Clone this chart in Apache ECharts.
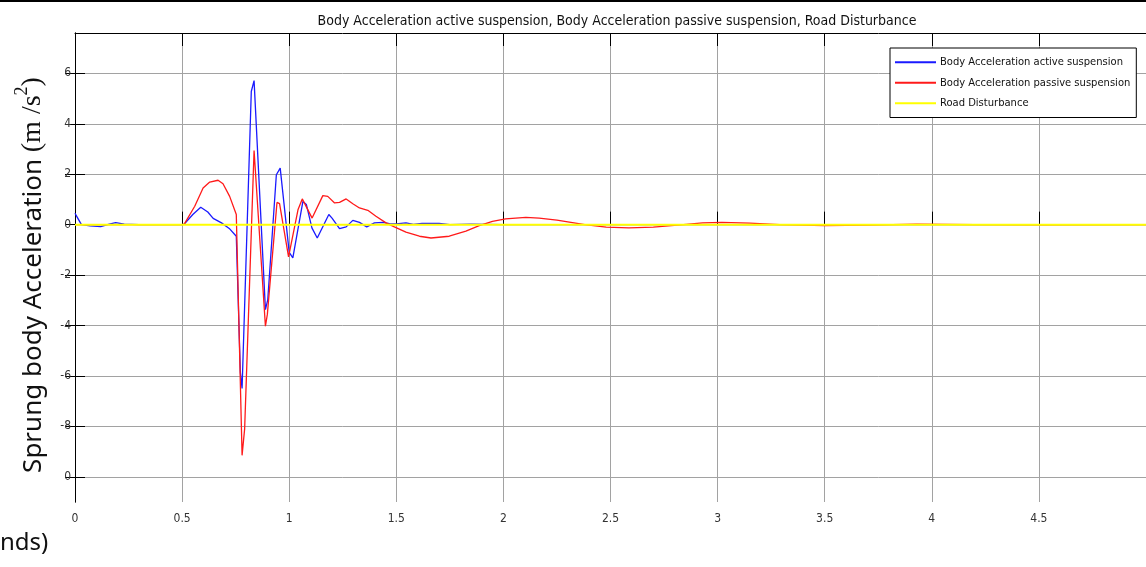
<!DOCTYPE html>
<html>
<head>
<meta charset="utf-8">
<script src="https://cdn.jsdelivr.net/npm/echarts@6/dist/echarts.min.js"></script>
<style>
  html, body { margin: 0; padding: 0; background: #fff; }
  #chart { width: 1146px; height: 567px; }
</style>
</head>
<body>
<div id="chart"></div>
<script>
// Sprung-mass body acceleration, time in seconds
const activeTime = [0, 0.01, 0.03, 0.07, 0.12, 0.16, 0.19, 0.23, 0.3, 0.4, 0.5, 0.51, 0.55, 0.587, 0.62, 0.645, 0.684, 0.72, 0.753, 0.772, 0.78, 0.823, 0.836, 0.889, 0.9, 0.94, 0.958, 1.0, 1.017, 1.064, 1.08, 1.106, 1.131, 1.185, 1.2, 1.235, 1.266, 1.297, 1.328, 1.362, 1.398, 1.437, 1.468, 1.5, 1.545, 1.58, 1.62, 1.7, 1.75, 1.85, 2.0, 2.5, 3.0, 3.5, 4.0, 4.5, 5.0];
const activeAccel = [0.45, 0.3, 0.0, -0.05, -0.08, 0.02, 0.08, 0.02, 0, 0, 0, 0.02, 0.4, 0.69, 0.5, 0.25, 0.07, -0.15, -0.46, -5.86, -6.5, 5.28, 5.71, -3.37, -2.97, 1.98, 2.24, -1.1, -1.32, 0.92, 0.8, -0.13, -0.53, 0.4, 0.26, -0.16, -0.09, 0.17, 0.09, -0.09, 0.07, 0.09, 0.04, 0.03, 0.07, 0.01, 0.05, 0.05, 0, 0.02, 0, 0, 0, 0, 0, 0, 0];

const passiveTime = [0, 0.5, 0.51, 0.559, 0.598, 0.629, 0.668, 0.691, 0.722, 0.753, 0.78, 0.792, 0.836, 0.889, 0.898, 0.943, 0.955, 0.997, 1.041, 1.061, 1.107, 1.157, 1.18, 1.212, 1.235, 1.266, 1.297, 1.328, 1.367, 1.405, 1.452, 1.491, 1.545, 1.608, 1.662, 1.747, 1.825, 1.887, 1.949, 2.01, 2.105, 2.167, 2.25, 2.38, 2.48, 2.586, 2.7, 2.84, 2.93, 3.02, 3.15, 3.29, 3.5, 3.7, 3.93, 4.2, 4.5, 5.0];
const passiveAccel = [0, 0, 0.02, 0.73, 1.45, 1.69, 1.76, 1.62, 1.12, 0.4, -9.15, -8.1, 2.94, -4.03, -3.56, 0.88, 0.83, -1.28, 0.59, 1.02, 0.26, 1.15, 1.12, 0.86, 0.88, 1.02, 0.83, 0.66, 0.57, 0.33, 0.07, -0.09, -0.3, -0.46, -0.53, -0.46, -0.26, -0.04, 0.13, 0.23, 0.29, 0.26, 0.18, 0, -0.1, -0.13, -0.1, 0, 0.07, 0.09, 0.06, 0, -0.04, -0.02, 0.02, 0, -0.01, 0];

const roadTime = [0, 1, 2, 3, 4, 5];
const roadValue = [0, 0, 0, 0, 0, 0];

const seriesNames = ['Body Acceleration active suspension', 'Body Acceleration passive suspension', 'Road Disturbance'];

// y tick positions and the labels printed next to them
const yTickValues = [-10, -8, -6, -4, -2, 0, 2, 4, 6];
const yTickLabels = ['0', '-8', '-6', '-4', '-2', '0', '2', '4', '6'];

const pairs = (xs, ys) => xs.map((x, i) => [x, ys[i]]);

const narrow = "'Liberation Sans Narrow', 'DejaVu Sans Condensed', 'Arial Narrow', sans-serif";
const bodyFont = "'Noto Sans', 'Open Sans', sans-serif";
const mathFont = "'Liberation Serif', 'DejaVu Serif', serif";
const gridColor = '#a2a2a2';

const chart = echarts.init(document.getElementById('chart'), null, { renderer: 'canvas' });

const yAxisBase = {
  type: 'value',
  min: -11,
  max: 7.6,
  axisLine: { show: true, lineStyle: { color: '#000', width: 1 } },
  axisTick: { show: true, inside: true, length: 10, customValues: yTickValues, lineStyle: { color: '#000' } },
  splitLine: { show: false }
};

chart.setOption({
  animation: false,
  backgroundColor: '#fff',
  title: {
    text: 'Body Acceleration active suspension, Body Acceleration passive suspension, Road Disturbance',
    left: 612,
    top: 9,
    textAlign: 'center',
    textStyle: { fontFamily: narrow, fontSize: 14, fontWeight: 'normal', color: '#111' }
  },
  grid: { left: 75, top: 33, width: 1073, height: 469, containLabel: false },
  legend: {
    orient: 'vertical',
    left: 890,
    top: 48,
    padding: [5, 6, 5, 5],
    itemGap: 2,
    itemWidth: 41,
    itemHeight: 2,
    icon: 'rect',
    backgroundColor: '#fff',
    borderColor: '#000',
    borderWidth: 1,
    borderRadius: 0,
    textStyle: { fontFamily: narrow, fontSize: 11.1, color: '#111', lineHeight: 18.5, padding: [0, 0, 0, -1] },
    data: seriesNames
  },
  xAxis: [
    {
      type: 'value',
      min: 0,
      max: 5,
      interval: 0.5,
      position: 'bottom',
      axisLine: { show: true, lineStyle: { color: '#000', width: 1 } },
      axisTick: { show: true, inside: true, length: 13, lineStyle: { color: '#000' } },
      axisLabel: { margin: 11, fontFamily: narrow, fontSize: 12, color: '#333', showMaxLabel: false },
      splitLine: { show: true, lineStyle: { color: gridColor, width: 1 } }
    },
    {
      type: 'value',
      min: 0,
      max: 5,
      interval: 0.5,
      position: 'top',
      axisLine: { show: true, onZero: false, lineStyle: { color: '#000', width: 1 } },
      axisTick: { show: true, inside: true, length: 13, lineStyle: { color: '#000' } },
      axisLabel: { show: false },
      splitLine: { show: false }
    }
  ],
  yAxis: [
    Object.assign({}, yAxisBase, {
      position: 'left',
      axisLabel: {
        margin: 4,
        fontFamily: narrow,
        fontSize: 12,
        color: '#333',
        customValues: yTickValues,
        formatter: (v) => {
          const i = yTickValues.indexOf(Math.round(v));
          return i >= 0 ? yTickLabels[i] : '';
        }
      },
      splitLine: { show: true, lineStyle: { color: gridColor, width: 1 } }
    }),
    Object.assign({}, yAxisBase, {
      position: 'right',
      axisLabel: { show: false }
    })
  ],
  graphic: [
    { type: 'rect', shape: { x: 0, y: 0, width: 1146, height: 2 }, style: { fill: '#000' }, silent: true },
    {
      // vertical axis title, with the unit set in a math-style face
      type: 'text',
      x: 30,
      y: 275,
      rotation: Math.PI / 2,
      silent: true,
      style: {
        text: '{a|Sprung body Acceleration }{b|(m /s}{c|2}{b|)}',
        align: 'center',
        verticalAlign: 'middle',
        rich: {
          a: { fontFamily: bodyFont, fontSize: 26, fill: '#111', lineHeight: 34, verticalAlign: 'bottom' },
          b: { fontFamily: mathFont, fontSize: 28, fill: '#111', lineHeight: 34, verticalAlign: 'bottom' },
          c: { fontFamily: mathFont, fontSize: 18, fill: '#111', lineHeight: 34, verticalAlign: 'top' }
        }
      }
    },
    {
      type: 'text',
      left: 0,
      top: 531,
      silent: true,
      style: { text: 'nds)', fontFamily: bodyFont, fontSize: 24, fill: '#111' }
    }
  ],
  series: [
    {
      name: seriesNames[0],
      type: 'line',
      data: pairs(activeTime, activeAccel),
      showSymbol: false,
      symbol: 'none',
      lineStyle: { color: '#1a1aff', width: 1.3 },
      itemStyle: { color: '#1a1aff' },
      z: 2
    },
    {
      name: seriesNames[1],
      type: 'line',
      data: pairs(passiveTime, passiveAccel),
      showSymbol: false,
      symbol: 'none',
      lineStyle: { color: '#ff1a1a', width: 1.3 },
      itemStyle: { color: '#ff1a1a' },
      z: 3
    },
    {
      name: seriesNames[2],
      type: 'line',
      data: pairs(roadTime, roadValue),
      showSymbol: false,
      symbol: 'none',
      lineStyle: { color: '#ffff00', width: 2 },
      itemStyle: { color: '#ffff00' },
      z: 4
    }
  ]
});
</script>
</body>
</html>
